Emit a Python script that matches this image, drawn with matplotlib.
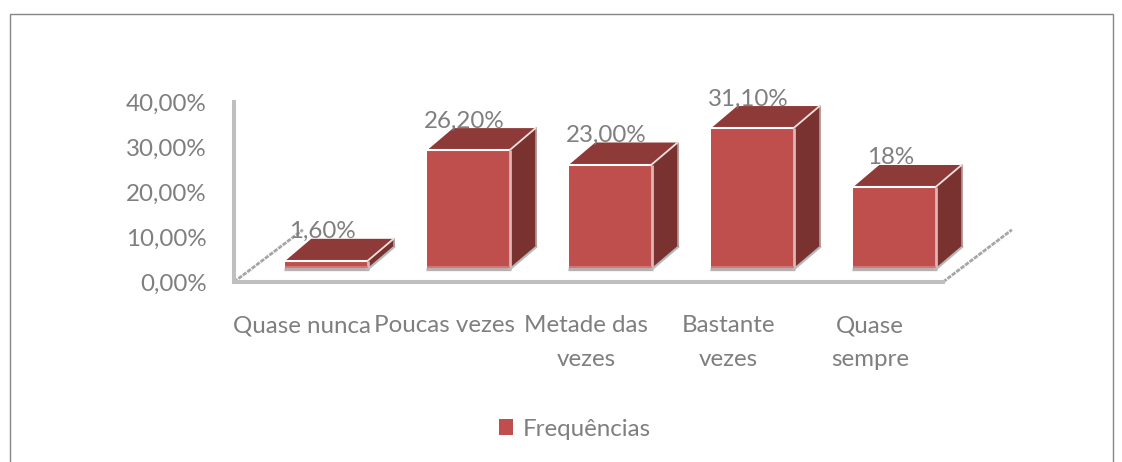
import matplotlib
matplotlib.use('Agg')
import matplotlib.pyplot as plt
from matplotlib.patches import Polygon, Patch, Rectangle

categories = ['Quase nunca', 'Poucas vezes', 'Metade das\nvezes', 'Bastante\nvezes', 'Quase\nsempre']
values = [1.6, 26.2, 23.0, 31.1, 18.0]
value_labels = ['1,60%', '26,20%', '23,00%', '31,10%', '18%']
y_ticks = [0, 10, 20, 30, 40]
y_labels = ['0,00%', '10,00%', '20,00%', '30,00%', '40,00%']
series_name = 'Frequências'

W, H = 1122, 462
plt.rcParams['font.family'] = ['Lato', 'DejaVu Sans']
fig = plt.figure(figsize=(W / 100, H / 100), dpi=100)
ax = fig.add_axes([234 / W, 1 - 282 / H, (943 - 234) / W, 180 / H])
ax.set_xlim(-0.651, 4.342)
ax.set_ylim(0, 40)

text_col = '#7f7f7f'
axis_col = '#bfbfbf'
fsize = 17.4

# outer chart frame, bottom edge runs off the picture
fig.add_artist(Rectangle((10 / W, -0.05), (1113 - 10) / W, 1.05 - 14 / H, transform=fig.transFigure,
                         fill=False, edgecolor='#868686', linewidth=1))

for s in ['top', 'right']:
    ax.spines[s].set_visible(False)
for s in ['left', 'bottom']:
    ax.spines[s].set_color(axis_col)
    ax.spines[s].set_linewidth(2.9)

base = 3.1     # bars stand back from the floor line
bar_w = 0.58
dx = 0.183     # fake 3d depth
dy = 4.9

# floor diagonals
for x0 in [-0.651, 4.342]:
    ax.plot([x0, x0 + 0.485], [0, 11.6], color='#a6a6a6', lw=2, ls=(0, (1.6, 0.4)), clip_on=False)

for i, v in enumerate(values):
    l = i - bar_w / 2
    r = i + bar_w / 2
    t = base + v
    # base shadow
    ax.plot([l - 0.01, r + 0.01], [base - 0.2, base - 0.2], color='#b8b0b0', lw=2.4, solid_capstyle='butt',
            zorder=2, clip_on=False)
    ax.plot([r, r + dx], [base - 0.2, base - 0.2 + dy], color='#b8b8b8', lw=2.2, zorder=2, clip_on=False)
    # faces
    ax.add_patch(Polygon([(r, base), (r + dx, base + dy), (r + dx, t + dy), (r, t)], closed=True,
                         facecolor='#7a3230', edgecolor='none', zorder=3, clip_on=False))
    ax.add_patch(Polygon([(l, t), (l + dx, t + dy), (r + dx, t + dy), (r, t)], closed=True,
                         facecolor='#8e3a38', edgecolor='none', zorder=3, clip_on=False))
    ax.add_patch(Rectangle((l, base), bar_w, v, facecolor='#be4f4c', edgecolor='none', zorder=4, clip_on=False))
    # highlights on the edges
    ax.plot([l, r], [t, t], color='white', lw=1.5, zorder=5, solid_capstyle='butt', clip_on=False)
    ax.plot([r, r + dx], [t, t + dy], color='#f0e0e0', lw=1.3, zorder=5, clip_on=False)
    ax.plot([r, r], [base, t], color='#e0b4b2', lw=2, zorder=5, solid_capstyle='butt', clip_on=False)
    ax.plot([r + dx, r + dx], [base + dy, t + dy], color='#b08a88', lw=1.2, zorder=3, clip_on=False)
    ax.plot([l, r], [base + 0.3, base + 0.3], color='#d97f7c', lw=1.2, zorder=5, solid_capstyle='butt', clip_on=False)
    ax.annotate(value_labels[i], (i, t), xytext=(-3, 21), textcoords='offset points', ha='center', va='center',
                fontsize=fsize, color=text_col, zorder=6)

ax.set_yticks(y_ticks)
ax.set_yticklabels(y_labels, fontsize=fsize, color=text_col, va='center_baseline')
ax.set_xticks([i - 0.17 for i in range(len(categories))])
ax.set_xticklabels(categories, fontsize=fsize, color=text_col, linespacing=1.75, va='top')
ax.tick_params(axis='y', length=0, pad=19.5)
ax.tick_params(axis='x', length=0, pad=24)

fig.legend(handles=[Patch(facecolor='#be4f4c', label=series_name)], loc='center',
           bbox_to_anchor=(575 / W, 1 - 429 / H), frameon=False, fontsize=fsize, labelcolor=text_col,
           handlelength=0.6, handleheight=0.6, handletextpad=0.4)

fig.savefig('out.png', dpi=100)
